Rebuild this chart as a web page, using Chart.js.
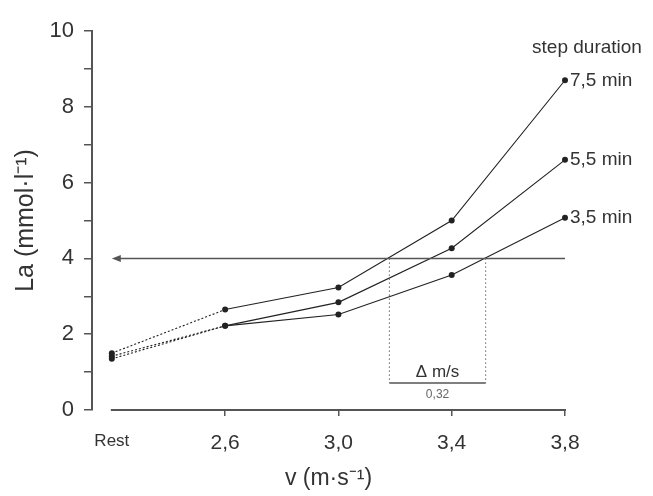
<!DOCTYPE html>
<html>
<head>
<meta charset="utf-8">
<script src="https://cdn.jsdelivr.net/npm/chart.js@4/dist/chart.umd.min.js"></script>
<style>
  html, body { margin: 0; padding: 0; background: #fff; }
  #wrap { width: 653px; height: 496px; }
</style>
</head>
<body>
<div id="wrap"><canvas id="laChart" width="653" height="496"></canvas></div>
<script>
// categories on the speed axis (Rest drawn one step left of 2,6)
const xLabels = ['Rest', '2,6', '3,0', '3,4', '3,8'];
const xValues = [2.2, 2.6, 3.0, 3.4, 3.8];

// lactate per step duration
const seriesNames = ['7,5 min', '5,5 min', '3,5 min'];
const la75 = [1.50, 2.65, 3.23, 5.00, 8.70];
const la55 = [1.42, 2.22, 2.84, 4.27, 6.60];
const la35 = [1.35, 2.22, 2.52, 3.56, 5.07];

// 4 mmol threshold and the speed span between the curves
const thresholdLa = 4;
const deltaSpeeds = [3.18, 3.52];
const deltaBarLa = 0.71;
const deltaText = 'Δ m/s';
const deltaValue = '0,32';
const legendTitle = 'step duration';

const axisColor = '#555';
const inkColor = '#222';
const fontFamily = '"Liberation Sans", Arial, sans-serif';

function toPoints(vals) {
    return vals.map((v, i) => ({ x: xValues[i], y: v }));
}

const datasets = [la75, la55, la35].map((vals, i) => ({
    label: seriesNames[i],
    data: toPoints(vals),
    borderColor: inkColor,
    backgroundColor: inkColor,
    borderWidth: 1.1,
    pointRadius: 3,
    pointBorderWidth: 0,
    clip: false,
    segment: {
        borderDash: ctx => ctx.p0DataIndex === 0 ? [2, 2] : undefined
    }
}));

const extras = {
    id: 'extras',
    afterDatasetsDraw(chart) {
        const { ctx, chartArea, scales: { x, y } } = chart;
        const xs = xValues[0], xe = xValues[xValues.length - 1];
        ctx.save();

        // x axis line, only from Rest to 3,8
        ctx.strokeStyle = axisColor;
        ctx.lineWidth = 2;
        ctx.beginPath();
        ctx.moveTo(x.getPixelForValue(xs) - 1, chartArea.bottom);
        ctx.lineTo(x.getPixelForValue(xe) + 1, chartArea.bottom);
        ctx.stroke();

        // threshold line with arrow to the left
        const ty = y.getPixelForValue(thresholdLa);
        const tx0 = x.getPixelForValue(xs);
        const tx1 = x.getPixelForValue(xe);
        ctx.lineWidth = 1.5;
        ctx.beginPath();
        ctx.moveTo(tx0 + 6, ty);
        ctx.lineTo(tx1, ty);
        ctx.stroke();
        ctx.fillStyle = axisColor;
        ctx.beginPath();
        ctx.moveTo(tx0, ty);
        ctx.lineTo(tx0 + 9, ty - 3.5);
        ctx.lineTo(tx0 + 9, ty + 3.5);
        ctx.closePath();
        ctx.fill();

        // delta speed bracket
        const dA = x.getPixelForValue(deltaSpeeds[0]);
        const dB = x.getPixelForValue(deltaSpeeds[1]);
        const dy = y.getPixelForValue(deltaBarLa);
        ctx.strokeStyle = '#666';
        ctx.lineWidth = 1;
        ctx.setLineDash([1.5, 2.5]);
        ctx.beginPath();
        ctx.moveTo(dA, ty); ctx.lineTo(dA, dy);
        ctx.moveTo(dB, ty); ctx.lineTo(dB, dy);
        ctx.stroke();
        ctx.setLineDash([]);
        ctx.strokeStyle = axisColor;
        ctx.lineWidth = 1.5;
        ctx.beginPath();
        ctx.moveTo(dA, dy); ctx.lineTo(dB, dy);
        ctx.stroke();

        ctx.textAlign = 'center';
        ctx.fillStyle = '#333';
        ctx.textBaseline = 'bottom';
        ctx.font = '17px ' + fontFamily;
        ctx.fillText(deltaText, (dA + dB) / 2, dy - 2);
        ctx.textBaseline = 'top';
        ctx.font = '12px ' + fontFamily;
        ctx.fillStyle = '#666';
        ctx.fillText(deltaValue, (dA + dB) / 2, dy + 6);

        // series labels next to last points
        ctx.fillStyle = '#333';
        ctx.font = '19px ' + fontFamily;
        ctx.textAlign = 'left';
        ctx.textBaseline = 'middle';
        chart.data.datasets.forEach(ds => {
            const last = ds.data[ds.data.length - 1];
            ctx.fillText(ds.label, x.getPixelForValue(last.x) + 5, y.getPixelForValue(last.y));
        });
        ctx.textAlign = 'center';
        ctx.fillText(legendTitle, tx1 + 22, y.getPixelForValue(9.55));

        ctx.restore();
    }
};

new Chart(document.getElementById('laChart'), {
    type: 'line',
    data: { datasets: datasets },
    options: {
        responsive: false,
        animation: false,
        layout: { padding: { left: 0, right: 88, top: 31, bottom: 0 } },
        plugins: { legend: { display: false }, tooltip: { enabled: false } },
        scales: {
            x: {
                type: 'linear',
                min: 2.13,
                max: 3.8,
                afterBuildTicks: scale => {
                    scale.ticks = xValues.map(v => ({ value: v }));
                },
                afterFit: scale => { scale.height = 86; },
                border: { display: false },
                grid: {
                    drawOnChartArea: false,
                    drawTicks: true,
                    tickLength: 6,
                    lineWidth: 1.5,
                    color: ctx => ctx.index === 0 ? 'rgba(0,0,0,0)' : axisColor
                },
                ticks: {
                    padding: 15,
                    color: '#333',
                    maxRotation: 0,
                    autoSkip: false,
                    callback: (val, i) => xLabels[i],
                    font: ctx => ctx.index === 0
                        ? { family: fontFamily, size: 17 }
                        : { family: fontFamily, size: 21 }
                },
                title: {
                    display: true,
                    text: 'v (m·s⁻¹)',
                    color: '#333',
                    font: { family: fontFamily, size: 23 },
                    padding: { top: 0 }
                }
            },
            y: {
                min: 0,
                max: 10,
                afterFit: scale => { scale.width = 92; },
                border: { display: true, color: axisColor, width: 2 },
                grid: {
                    drawOnChartArea: false,
                    drawTicks: true,
                    tickLength: 8,
                    lineWidth: 1.5,
                    color: axisColor
                },
                ticks: {
                    stepSize: 1,
                    padding: 10,
                    color: '#333',
                    font: { family: fontFamily, size: 22 },
                    callback: v => v % 2 === 0 ? v : ''
                },
                title: {
                    display: true,
                    text: 'La (mmol·l⁻¹)',
                    color: '#333',
                    font: { family: fontFamily, size: 25 },
                    padding: { top: 11 }
                }
            }
        }
    },
    plugins: [extras]
});
</script>
</body>
</html>
